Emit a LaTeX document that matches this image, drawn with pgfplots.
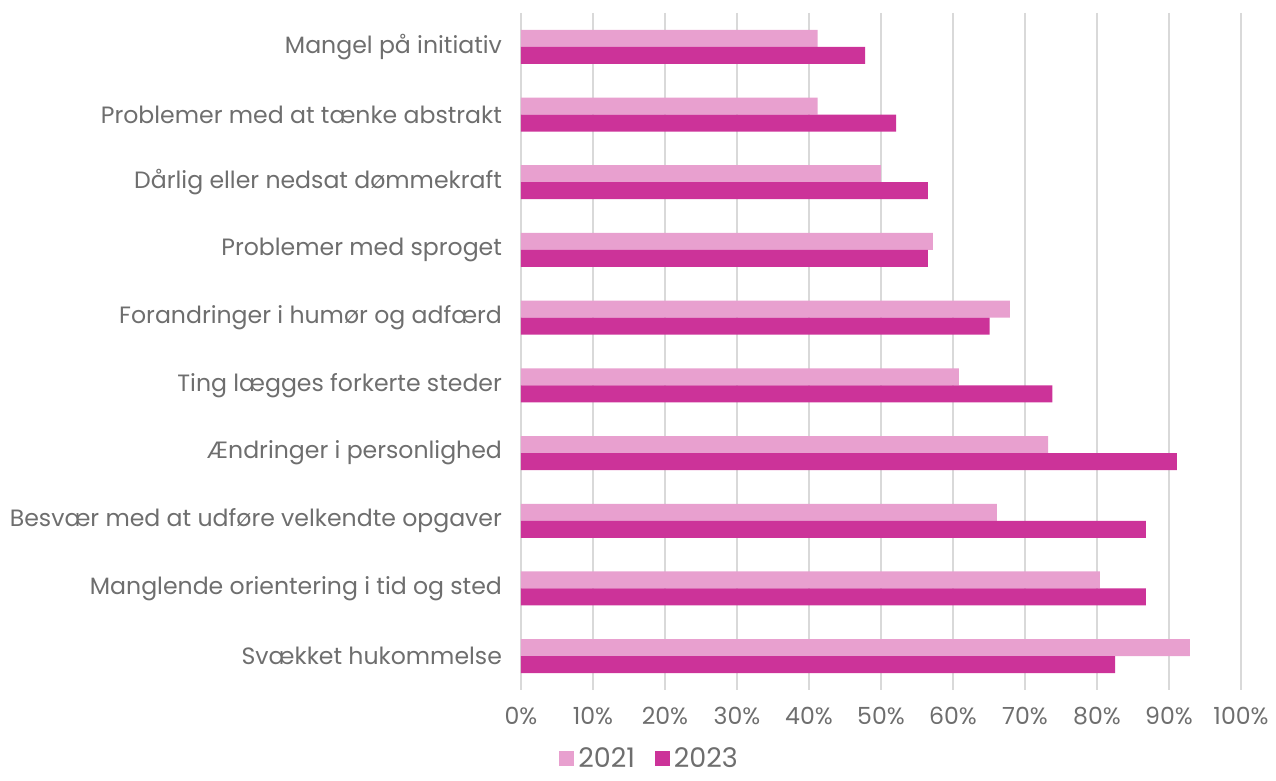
\documentclass[border=0pt]{standalone}
\usepackage{fontspec}
\setmainfont{Poppins}
\usepackage{pgfplots}
\pgfplotsset{compat=1.18}
\definecolor{pinkA}{HTML}{E8A0CF}
\definecolor{pinkB}{HTML}{CC3399}
\definecolor{txt}{HTML}{6E6E6E}
\definecolor{gridc}{HTML}{D9D9D9}
\begin{document}
\begin{tikzpicture}
\begin{axis}[
  at={(260.5pt,45.5pt)}, anchor=south west,
  scale only axis,
  width=360pt, height=338.5pt,
  xbar=0pt, bar width=8.5pt,
  xmin=0, xmax=100,
  ymin=-0.5, ymax=9.5,
  y dir=reverse,
  xtick={0,10,...,100},
  xticklabel={\pgfmathprintnumber{\tick}\%},
  ytick={0,...,9},
  yticklabels={Mangel på initiativ, Problemer med at tænke abstrakt, Dårlig eller nedsat dømmekraft, Problemer med sproget, Forandringer i humør og adfærd, Ting lægges forkerte steder, Ændringer i personlighed, Besvær med at udføre velkendte opgaver, Manglende orientering i tid og sted, Svækket hukommelse},
  axis line style={draw=none},
  major tick length=0pt,
  xmajorgrids, grid style={gridc, line width=0.8pt},
  ticklabel style={font=\fontsize{11.8}{14}\selectfont, text=txt},
  yticklabel style={xshift=-6pt},
  xticklabel style={yshift=-5pt},
  /pgf/number format/assume math mode=true,
  legend style={at={(0.18,-0.128)}, anchor=south, draw=none, fill=none,
    legend columns=2, font=\fontsize{13.5}{15}\selectfont, text=txt,
    inner sep=1pt,
    /tikz/every even column/.append style={column sep=8pt}},
  legend image code/.code={\fill[#1] (0pt,-3.5pt) rectangle (7.5pt,4pt);},
  clip=false,
]
\addplot[fill=pinkA, draw=none, bar shift=4.25pt] coordinates {
  (41.2,0) (41.2,1) (50.0,2) (57.2,3) (67.9,4) (60.8,5) (73.2,6) (66.1,7) (80.4,8) (92.9,9)};
\addplot[fill=pinkB, draw=none, bar shift=-4.25pt] coordinates {
  (47.8,0) (52.1,1) (56.5,2) (56.5,3) (65.1,4) (73.8,5) (91.1,6) (86.8,7) (86.8,8) (82.5,9)};
\legend{2021,2023}
\end{axis}
\pgfresetboundingbox
\path (0,0) rectangle (638pt,390.5pt);
\end{tikzpicture}
\end{document}
